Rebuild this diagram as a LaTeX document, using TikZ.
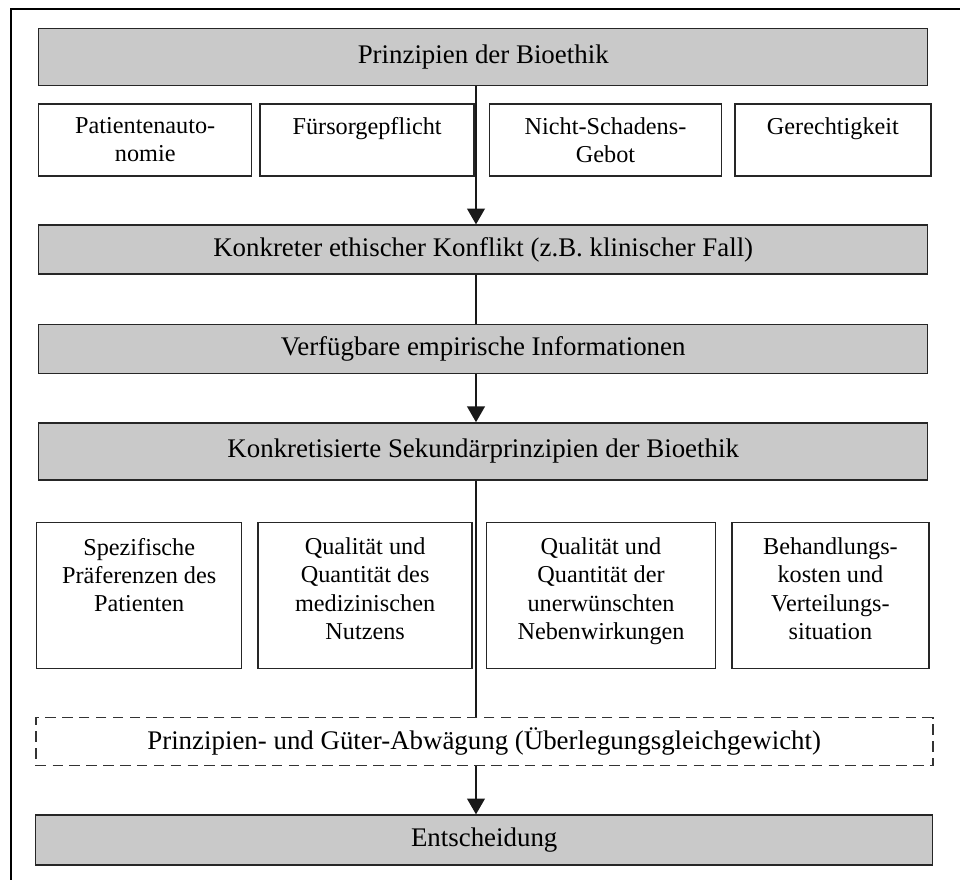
\documentclass[tikz,border=0pt]{standalone}
\usepackage{fontspec}
\setmainfont{Liberation Serif}
\usetikzlibrary{positioning, arrows.meta}

\begin{document}
\begin{tikzpicture}[
	bar/.style={draw=black!85, line width=0.8pt, fill=black!21, minimum width=17.78cm, minimum height=1.14cm, inner sep=0pt, font=\fontsize{15.3}{18}\selectfont},
	cell/.style={draw=black!85, line width=0.8pt, minimum height=1.44cm, inner sep=0pt},
	tallcell/.style={cell, minimum height=2.92cm},
	txt/.style={anchor=north, inner sep=0pt, label distance=-0.28cm, align=center, font=\fontsize{13.8}{16}\selectfont},
	flow/.style={line width=1.3pt, black!90},
	tip/.style={-{Triangle[width=10pt, length=9pt]}},
	]
	
	\clip (0,0) rectangle (19.2,-17.58);
	\coordinate (spine) at (9.52,0);
	% frame, cut off at the right and bottom
	\draw[line width=0.9pt] (0.22,-20) |- (22,-0.18);
	
	\node[bar, anchor=north west] (head) at (0.76,-0.56) {Prinzipien der Bioethik};
	\node[cell, minimum width=4.26cm, below=0.34cm of head.south west, anchor=north west, label={[txt]90:Patientenauto-\\nomie}] (auto) {};
	\node[cell, minimum width=4.28cm, right=0.14cm of auto, label={[txt]90:Fürsorgepflicht}] (care) {};
	\node[cell, minimum width=4.64cm, right=0.28cm of care, label={[txt]90:Nicht-Schadens-\\Gebot}] (harm) {};
	\node[cell, minimum width=3.92cm, right=0.24cm of harm, label={[txt]90:Gerechtigkeit}] (just) {};
	
	\node[bar, minimum height=0.98cm, below=2.76cm of head.south] (konflikt) {Konkreter ethischer Konflikt (z.B. klinischer Fall)};
	\node[bar, minimum height=0.98cm, below=0.98cm of konflikt] (info) {Verfügbare empirische Informationen};
	\node[bar, below=0.96cm of info] (sek) {Konkretisierte Sekundärprinzipien der Bioethik};
	
	\node[tallcell, minimum width=4.10cm, below=0.82cm of sek.south west, anchor=north west, xshift=-0.04cm, label={[txt, label distance=-0.32cm]90:Spezifische\\Präferenzen des\\Patienten}] (pref) {};
	\node[tallcell, minimum width=4.28cm, right=0.30cm of pref, label={[txt, label distance=-0.32cm]90:Qualität und\\Quantität des\\medizinischen\\Nutzens}] (benefit) {};
	\node[tallcell, minimum width=4.58cm, right=0.26cm of benefit, label={[txt, label distance=-0.32cm]90:Qualität und\\Quantität der\\unerwünschten\\Nebenwirkungen}] (side) {};
	\node[tallcell, minimum width=3.94cm, right=0.30cm of side, label={[txt, label distance=-0.32cm]90:Behandlungs-\\kosten und\\Verteilungs-\\situation}] (cost) {};
	
	\node[bar, fill=none, draw=black!80, line width=1pt, dash pattern=on 6pt off 3.6pt, minimum width=17.94cm, minimum height=0.96cm, below=4.72cm of sek.south, xshift=0.02cm] (weigh) {Prinzipien- und Güter-Abwägung (Überlegungsgleichgewicht)};
	\node[bar, minimum width=17.94cm, minimum height=1.0cm, below=0.96cm of weigh] (decision) {Entscheidung};
	
	\draw[flow, tip] (head.south -| spine) -- (konflikt.north -| spine);
	\draw[flow] (konflikt.south -| spine) -- (info.north -| spine);
	\draw[flow, tip] (info.south -| spine) -- (sek.north -| spine);
	\draw[flow] (sek.south -| spine) -- (weigh.north -| spine);
	\draw[flow, tip] (weigh.south -| spine) -- (decision.north -| spine);
\end{tikzpicture}
\end{document}
